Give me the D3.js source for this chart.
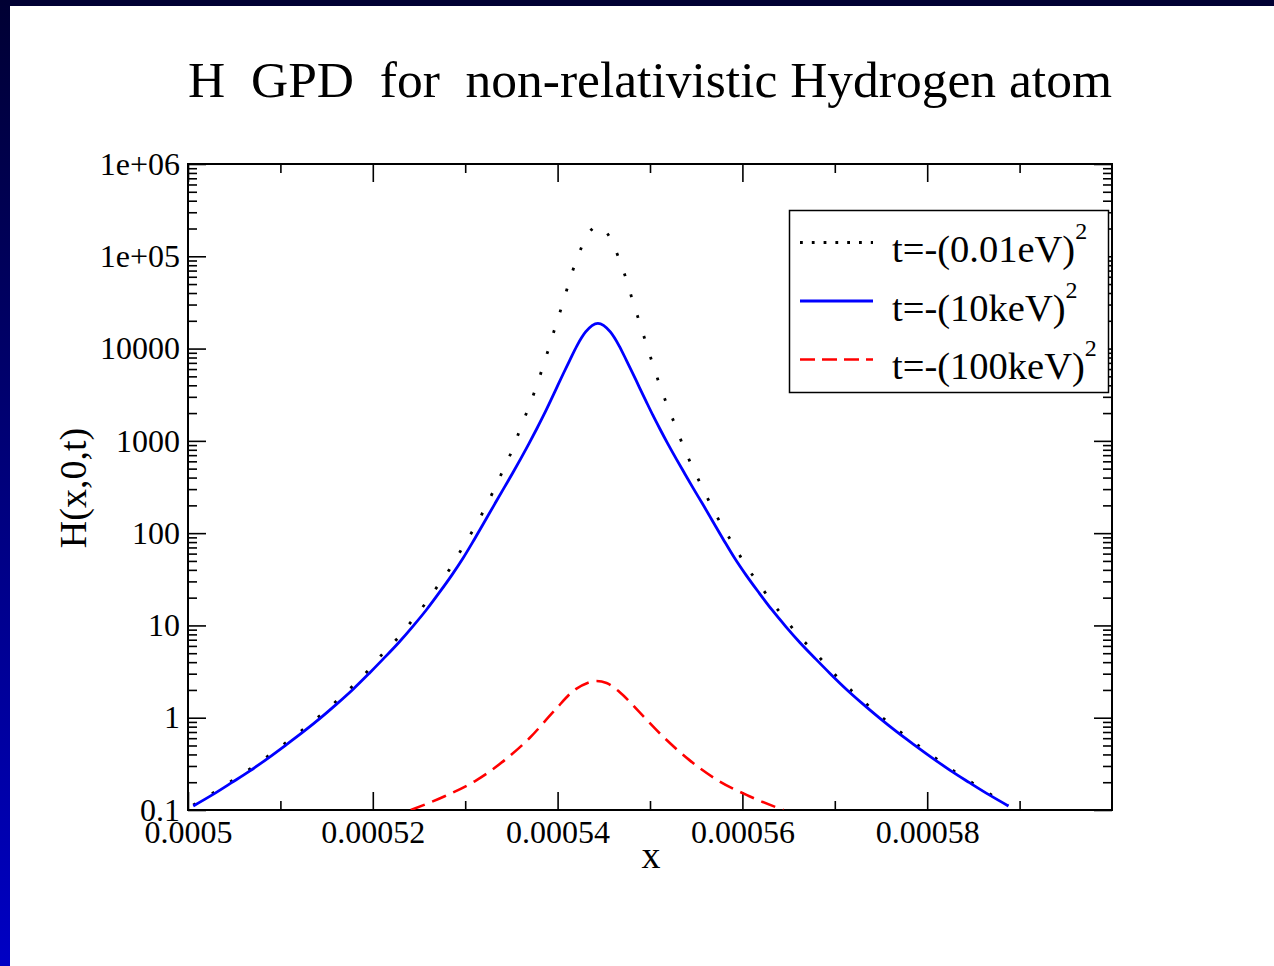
<!DOCTYPE html>
<html>
<head>
<meta charset="utf-8">
<script src="https://cdn.jsdelivr.net/npm/d3@7"></script>
<style>
  body { margin: 0; background: #fff; }
  text { font-family: "Liberation Serif", "Times New Roman", serif; fill: #000; }
</style>
</head>
<body>
<div id="chart"></div>
<script>
// tick values and labels
const xTicks = [0.0005, 0.00052, 0.00054, 0.00056, 0.00058];
const xTickLabels = ["0.0005", "0.00052", "0.00054", "0.00056", "0.00058"];
const xMinor = [0.00051, 0.00053, 0.00055, 0.00057, 0.00059];
const yTicks = [0.1, 1, 10, 100, 1000, 10000, 1e5, 1e6];
const yTickLabels = ["0.1", "1", "10", "100", "1000", "10000", "1e+05", "1e+06"];

// x positions shared by the dotted and solid curves
const xCurve = [0.00050057, 0.00050267, 0.00050472, 0.00050670, 0.00050868, 0.00051059, 0.00051246,
  0.00051435, 0.00051608, 0.00051787, 0.00051960, 0.00052111, 0.00052284, 0.00052429, 0.00052581,
  0.00052717, 0.00052857, 0.00052976, 0.00053103, 0.00053319, 0.00053419, 0.00053517, 0.00053600,
  0.00053690, 0.00053776, 0.00053849, 0.00053921, 0.00053992, 0.00054065, 0.00054130, 0.00054209,
  0.00054303, 0.00054436,
  0.00054571, 0.00054666, 0.00054746, 0.00054812, 0.00054885, 0.00054958, 0.00055031, 0.00055105,
  0.00055192, 0.00055284, 0.00055369, 0.00055467, 0.00055570, 0.00055789, 0.00055917, 0.00056038,
  0.00056181, 0.00056319, 0.00056472, 0.00056619, 0.00056795, 0.00056948, 0.00057124, 0.00057306,
  0.00057482, 0.00057672, 0.00057863, 0.00058057, 0.00058257, 0.00058458, 0.00058667, 0.00058880];

// t=-(0.01eV)^2, dotted black
const hDotted = [0.1132, 0.1517, 0.206, 0.278, 0.385, 0.536, 0.748,
  1.069, 1.517, 2.223, 3.342, 4.989, 7.551, 11.46, 17.95,
  28.12, 44.36, 71.29, 115.6, 305.5, 503.5, 829.8, 1387,
  2344, 4027, 6745, 11376, 19543, 32961, 55208, 93325,
  156315, 213796,
  156315, 93325, 55208, 32961, 19543, 11376, 6745, 4027,
  2344, 1387, 829.8, 503.5, 305.5, 115.6, 71.29, 44.36,
  28.12, 17.95, 11.46, 7.551, 4.989, 3.342, 2.223, 1.517,
  1.069, 0.748, 0.536, 0.385, 0.278, 0.206, 0.1517, 0.1132];

// t=-(10keV)^2, solid blue
const hSolid = [0.1104, 0.1466, 0.1977, 0.2655, 0.3656, 0.5058, 0.7015,
  0.9954, 1.403, 2.037, 3.020, 4.315, 6.577, 9.661, 14.79,
  22.49, 35.32, 53.46, 87.10, 206.5, 307.6, 453.9, 638.3,
  933.3, 1361, 1897, 2679, 3802, 5433, 7413, 10715,
  15136, 18750,
  15136, 10715, 7413, 5433, 3802, 2679, 1897, 1361,
  933.3, 638.3, 453.9, 307.6, 206.5, 87.10, 53.46, 35.32,
  22.49, 14.79, 9.661, 6.577, 4.315, 3.020, 2.037, 1.403,
  0.9954, 0.7015, 0.5058, 0.3656, 0.2655, 0.1977, 0.1466, 0.1104];

// t=-(100keV)^2, dashed red
const xDashed = [0.00052411, 0.00052778, 0.00053124, 0.00053427, 0.00053697, 0.00053968, 0.00054184,
  0.00054324, 0.00054422, 0.00054530, 0.00054670, 0.00054886, 0.00055157, 0.00055427, 0.00055730,
  0.00056076, 0.00056443];
const hDashed = [0.1, 0.141, 0.211, 0.347, 0.603, 1.20, 2.0,
  2.38, 2.50, 2.38, 1.905, 1.148, 0.603, 0.347, 0.211,
  0.141, 0.1];

const legendLabels = ["t=-(0.01eV)", "t=-(10keV)", "t=-(100keV)"];

const W = 1274, H = 966;
const margin = {top: 164, right: 162, bottom: 156, left: 188},
  width = W - margin.left - margin.right,
  height = H - margin.top - margin.bottom;

const root = d3.select("#chart").append("svg")
  .attr("width", W)
  .attr("height", H);

// slide background bands
const defs = root.append("defs");
const grad = defs.append("linearGradient").attr("id", "sideband")
  .attr("x1", 0).attr("y1", 0).attr("x2", 0).attr("y2", 1);
grad.append("stop").attr("offset", "0%").attr("stop-color", "#000033");
grad.append("stop").attr("offset", "100%").attr("stop-color", "#0000c4");
root.append("rect").attr("x", 0).attr("y", 0).attr("width", W).attr("height", H).attr("fill", "#fff");
root.append("rect").attr("x", 0).attr("y", 0).attr("width", W).attr("height", 6).attr("fill", "#000033");
root.append("rect").attr("x", 0).attr("y", 0).attr("width", 10).attr("height", H).attr("fill", "url(#sideband)");

defs.append("clipPath").attr("id", "plotclip")
  .append("rect").attr("width", width).attr("height", height);

// title
root.append("text")
  .attr("x", 650).attr("y", 97)
  .attr("text-anchor", "middle")
  .attr("font-size", 51.5)
  .style("white-space", "pre")
  .text("H  GPD  for  non-relativistic Hydrogen atom");

const svg = root.append("g")
  .attr("transform", `translate(${margin.left},${margin.top})`);

const x = d3.scaleLinear().domain([0.0005, 0.0006]).range([0, width]);
const y = d3.scaleLog().domain([0.1, 1e6]).range([height, 0]);

// minor y ticks: 2..9 of each decade
const yMinor = [];
for (let i = 0; i < yTicks.length - 1; i++) {
  for (let k = 2; k <= 9; k++) yMinor.push(yTicks[i] * k);
}

function styleAxis(g) {
  g.select(".domain").remove();
  g.selectAll(".tick line").attr("stroke", "#000").attr("stroke-width", 1.6);
  g.selectAll(".tick text").attr("font-size", 32)
    .attr("font-family", '"Liberation Serif", "Times New Roman", serif');
}

// bottom axis
svg.append("g").attr("transform", `translate(0,${height})`)
  .call(d3.axisBottom(x).tickValues(xTicks).tickSize(-18).tickPadding(10)
    .tickFormat((d, i) => xTickLabels[i]))
  .call(styleAxis);
svg.append("g").attr("transform", `translate(0,${height})`)
  .call(d3.axisBottom(x).tickValues(xMinor).tickSize(-9).tickFormat(""))
  .call(styleAxis);
// top axis
svg.append("g")
  .call(d3.axisTop(x).tickValues(xTicks).tickSize(-18).tickFormat(""))
  .call(styleAxis);
svg.append("g")
  .call(d3.axisTop(x).tickValues(xMinor).tickSize(-9).tickFormat(""))
  .call(styleAxis);
// left axis
svg.append("g")
  .call(d3.axisLeft(y).tickValues(yTicks).tickSize(-18).tickPadding(8)
    .tickFormat((d, i) => yTickLabels[i]))
  .call(styleAxis);
svg.append("g")
  .call(d3.axisLeft(y).tickValues(yMinor).tickSize(-9).tickFormat(""))
  .call(styleAxis);
// right axis
svg.append("g").attr("transform", `translate(${width},0)`)
  .call(d3.axisRight(y).tickValues(yTicks).tickSize(-18).tickFormat(""))
  .call(styleAxis);
svg.append("g").attr("transform", `translate(${width},0)`)
  .call(d3.axisRight(y).tickValues(yMinor).tickSize(-9).tickFormat(""))
  .call(styleAxis);

// frame
svg.append("rect")
  .attr("width", width).attr("height", height)
  .attr("fill", "none").attr("stroke", "#000").attr("stroke-width", 2);

// curves
const line = d3.line()
  .x(d => x(d[0]))
  .y(d => y(d[1]))
  .curve(d3.curveMonotoneX);

const plot = svg.append("g").attr("clip-path", "url(#plotclip)");

plot.append("path")
  .datum(d3.zip(xCurve, hDotted))
  .attr("d", line)
  .attr("fill", "none").attr("stroke", "#000")
  .attr("stroke-width", 2.8)
  .attr("stroke-dasharray", "2.8 19");

plot.append("path")
  .datum(d3.zip(xCurve, hSolid))
  .attr("d", line)
  .attr("fill", "none").attr("stroke", "#0000ff")
  .attr("stroke-width", 2.8);

plot.append("path")
  .datum(d3.zip(xDashed, hDashed))
  .attr("d", line)
  .attr("fill", "none").attr("stroke", "#ff0000")
  .attr("stroke-width", 2.6)
  .attr("stroke-dasharray", "15 8");

// axis labels
root.append("text")
  .attr("x", 651).attr("y", 868)
  .attr("text-anchor", "middle")
  .attr("font-size", 38)
  .text("x");
root.append("text")
  .attr("transform", "translate(86,488) rotate(-90)")
  .attr("text-anchor", "middle")
  .attr("font-size", 38)
  .text("H(x,0,t)");

// legend
const legend = root.append("g");
legend.append("rect")
  .attr("x", 789.5).attr("y", 210.5)
  .attr("width", 319).attr("height", 182)
  .attr("fill", "#fff").attr("stroke", "#000").attr("stroke-width", 1.5);

const legendStyles = [
  {color: "#000", dash: "2.8 9", w: 2.8},
  {color: "#0000ff", dash: null, w: 2.8},
  {color: "#ff0000", dash: "15 7", w: 2.6}
];
const legendY = d3.scalePoint().domain(legendLabels).range([242.5, 359.5]);

legendLabels.forEach((lab, i) => {
  const ly = legendY(lab);
  legend.append("line")
    .attr("x1", 800).attr("x2", 873)
    .attr("y1", ly).attr("y2", ly)
    .attr("stroke", legendStyles[i].color)
    .attr("stroke-width", legendStyles[i].w)
    .attr("stroke-dasharray", legendStyles[i].dash);
  const t = legend.append("text")
    .attr("x", 892).attr("y", ly + 19.5)
    .attr("font-size", 38.5);
  t.append("tspan").text(lab);
  t.append("tspan").attr("dy", -23).attr("font-size", 24).text("2");
});
</script>
</body>
</html>
